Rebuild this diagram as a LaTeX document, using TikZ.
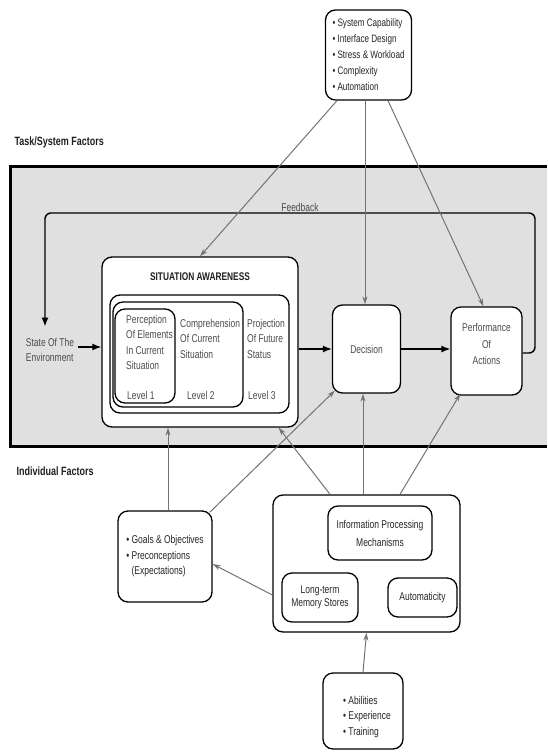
\documentclass[tikz,border=0pt]{standalone}
\usepackage{fontspec}
\setmainfont{Liberation Sans}[FakeStretch=0.75]
\usetikzlibrary{arrows.meta,calc}
\begin{document}
\begin{tikzpicture}[x=1pt,y=-1pt,
  box/.style={draw=black, line width=1.3pt, rounded corners=10pt, fill=white, inner sep=0pt},
  txt/.style={text=black!85, font=\fontsize{11.3}{15.5}\selectfont},
  lbl/.style={text=black!70, font=\fontsize{11.3}{15.5}\selectfont},
  flow/.style={draw=black, line width=1.4pt, -{Latex[length=9pt,width=7pt]}},
  gar/.style={draw=black!55, line width=1pt, -{Stealth[length=8pt,width=5pt]}},
  head/.style={text=black!88, font=\bfseries\fontsize{12}{14}\selectfont}
]
\useasboundingbox (0,0) rectangle (547,754);
% band of task/system factors
\fill[black!12] (10,167) rectangle (547,446);
\draw[line width=3pt] (547,167) -- (10,167) -- (10,446) -- (547,446);

\node[head, anchor=west] (tsf) at (11,142) {Task/System Factors};
\node[head, anchor=west] (indf) at (13,471) {Individual Factors};

% top box
\node[box, txt, minimum width=86pt, minimum height=90pt, align=left,
      font=\fontsize{10.8}{16}\selectfont] (sys) at (368.5,55)
  {\textbullet\ System Capability\\\textbullet\ Interface Design\\\textbullet\ Stress \& Workload\\\textbullet\ Complexity\\\textbullet\ Automation};

% situation awareness
\node[box, minimum width=196pt, minimum height=170pt] (sa) at (200,342) {};
\node[head, font=\bfseries\fontsize{11.1}{13}\selectfont] (satitle) at (200,277) {SITUATION AWARENESS};
\node[box, minimum width=179pt, minimum height=118pt] (l3box) at (199.5,354) {};
\node[box, minimum width=130pt, minimum height=105pt] (l2box) at (178,354.5) {};
\node[box, minimum width=60pt, minimum height=94pt] (l1box) at (145,356) {};
\node[lbl, anchor=north west, align=left, inner sep=0pt] (l1t) at (126,315) {Perception\\Of Elements\\In Current\\Situation};
\node[lbl, anchor=north west, align=left, inner sep=0pt] (l2t) at (180,319) {Comprehension\\Of Current\\Situation};
\node[lbl, anchor=north west, align=left, inner sep=0pt] (l3t) at (247,319) {Projection\\Of Future\\Status};
\node[lbl, anchor=west, inner sep=0pt] (l1l) at (127,395) {Level 1};
\node[lbl, anchor=west, inner sep=0pt] (l2l) at (187,395) {Level 2};
\node[lbl, anchor=west, inner sep=0pt] (l3l) at (248,395) {Level 3};

% state of environment
\node[lbl, align=left] (env) at (50,350) {State Of The\\Environment};

% decision and performance
\node[box, lbl, minimum width=68pt, minimum height=88pt] (dec) at (366.5,349) {Decision};
\node[box, minimum width=71pt, minimum height=88pt] (perf) at (486.5,351) {};
\node[lbl, align=center, font=\fontsize{11.3}{16.5}\selectfont] (perft) at (486.5,344) {Performance\\Of\\Actions};

% individual factors
\node[box, txt, minimum width=94pt, minimum height=91pt, align=left] (goals) at (165,556.5)
  {\textbullet\ Goals \& Objectives\\\textbullet\ Preconceptions\\\phantom{\textbullet\ }(Expectations)};
\node[box, minimum width=187pt, minimum height=137pt] (ind) at (366.5,563.5) {};
\node[box, txt, minimum width=104pt, minimum height=54pt, align=center,
      font=\fontsize{11.3}{18}\selectfont] (ipm) at (380,533) {Information Processing\\Mechanisms};
\node[box, txt, minimum width=76pt, minimum height=49pt, align=center,
      font=\fontsize{11.3}{13}\selectfont] (ltm) at (320,597.5) {Long-term\\Memory Stores};
\node[box, txt, minimum width=69pt, minimum height=39pt] (auto) at (422.5,597.5) {Automaticity};
\node[box, minimum width=80pt, minimum height=76pt] (abil) at (363,711) {};
\node[txt, align=left] (abilt) at (367,717) {\textbullet\ Abilities\\\textbullet\ Experience\\\textbullet\ Training};

% main flow
\draw[flow] ([yshift=3pt]env.east) -- ([yshift=3pt]env.east -| sa.west);
\draw[flow] (sa.east |- dec.west) -- (dec.west);
\draw[flow] (dec.east) -- (dec.east -| perf.west);
\coordinate (fbR) at (535,213);
\coordinate (fbL) at (45,213);
\draw[flow, rounded corners=6pt] ([yshift=-2pt]perf.east) -| (fbR) -- (fbL) -- ([xshift=-5pt,yshift=8pt]env.north);
\node[lbl] (fbl) at (300,207) {Feedback};

% task/system factor influences
\draw[gar] ([xshift=-31.5pt]sys.south) -- (sa.north);
\draw[gar] ([xshift=-3.5pt]sys.south) -- ([xshift=-3.5pt]sys.south |- dec.north);
\draw[gar] ([xshift=19.5pt]sys.south) -- ([xshift=-3pt]perf.north);

% individual factor influences
\draw[gar] ([xshift=3pt]goals.north) -- ([xshift=3pt]goals.north |- sa.south);
\draw[gar] ([xshift=-3pt,yshift=-2pt]goals.north east) -- ([xshift=3pt,yshift=3pt]dec.south west);
\draw[gar] ([xshift=-36.5pt]ind.north) -- ([xshift=-20pt]sa.south east);
\draw[gar] ([xshift=-3.5pt]ind.north) -- ([xshift=-3.5pt]ind.north |- dec.south);
\draw[gar] ([xshift=33.5pt]ind.north) -- ([xshift=10pt,yshift=2pt]perf.south west);
\draw[gar] ([yshift=-31.5pt]ind.west) -- ([yshift=-7.5pt]goals.east);
\draw[gar] (abil.north) -- (ind.south);
\end{tikzpicture}
\end{document}
